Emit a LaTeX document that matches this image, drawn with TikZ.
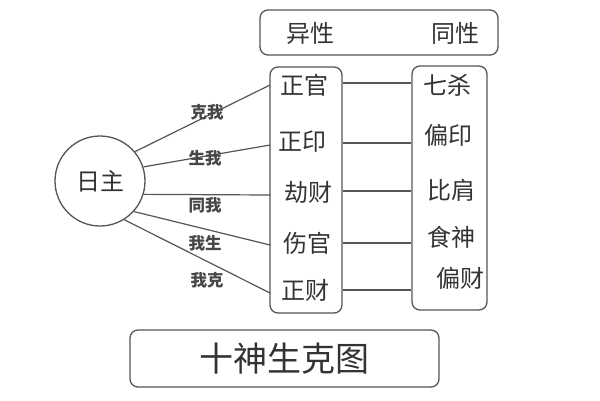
\documentclass[tikz,border=0pt]{standalone}
\usepackage{fontspec}
\newfontfamily\cjk{Noto Sans CJK SC}
\definecolor{ln}{HTML}{555555}
\definecolor{tx}{HTML}{333333}
\begin{document}
\begin{tikzpicture}[x=1pt,y=-1pt,
  box/.style={draw=ln,line width=1.3pt,rounded corners=8pt,inner sep=0pt},
  big/.style={font=\cjk\fontsize{24}{24}\selectfont,text=tx,inner sep=0pt},
  small/.style={font=\cjk\bfseries\fontsize{16.5}{16.5}\selectfont,text=tx!90,inner sep=0pt},
  conn/.style={draw=ln,line width=1.2pt}]
\useasboundingbox (0,0) rectangle (600,400);
% boxes
\node[box,minimum width=238pt,minimum height=45pt] (top) at (379,32.5) {};
\node[box,minimum width=72pt,minimum height=246pt] (L) at (306,190) {};
\node[box,minimum width=75pt,minimum height=244pt] (R) at (449.5,188) {};
\node[box,minimum width=309pt,minimum height=57pt,font=\cjk\fontsize{34}{34}\selectfont,text=tx] (title) at (284.5,358.5) {十神生克图};
\node[draw=ln,line width=1.3pt,circle,minimum size=90pt,inner sep=0pt,font=\cjk\fontsize{24}{24}\selectfont,text=tx] (ri) at (100,181) {日主};
% header
\node[big] (yx) at (310,33) {异性};
\node[big] (tx2) at (455,33) {同性};
% left column
\node[big] (g1) at (304,85) {正官};
\node[big] (g2) at (302,142) {正印};
\node[big] (g3) at (308,192) {劫财};
\node[big] (g4) at (307,243) {伤官};
\node[big] (g5) at (305,290) {正财};
% right column
\node[big] (h1) at (447,85) {七杀};
\node[big] (h2) at (448,135) {偏印};
\node[big] (h3) at (451,190) {比肩};
\node[big] (h4) at (451,237) {食神};
\node[big] (h5) at (460,278) {偏财};
% connectors from circle
\coordinate (a1) at (270,85);
\coordinate (a2) at (270,145);
\coordinate (a3) at (270,195);
\coordinate (a4) at (270,245);
\coordinate (a5) at (270,293);
\draw[conn] (ri.40) -- (a1);
\draw[conn] (ri.18) -- (a2);
\draw[conn] (ri.-17) -- (a3);
\draw[conn] (ri.-42) -- (a4);
\draw[conn] (ri.-58) -- (a5);
% edge labels
\node[small] (k1) at (207,112) {克我};
\node[small] (k2) at (205,158) {生我};
\node[small] (k3) at (205,205) {同我};
\node[small] (k4) at (205,243) {我生};
\node[small] (k5) at (207,280) {我克};
% connectors between columns
\draw[conn] (L.east |- 0,83) coordinate (b1) -- (R.west |- b1);
\draw[conn] (L.east |- 0,143) coordinate (b2) -- (R.west |- b2);
\draw[conn] (L.east |- 0,191) coordinate (b3) -- (R.west |- b3);
\draw[conn] (L.east |- 0,243) coordinate (b4) -- (R.west |- b4);
\draw[conn] (L.east |- 0,290) coordinate (b5) -- (R.west |- b5);
\end{tikzpicture}
\end{document}
